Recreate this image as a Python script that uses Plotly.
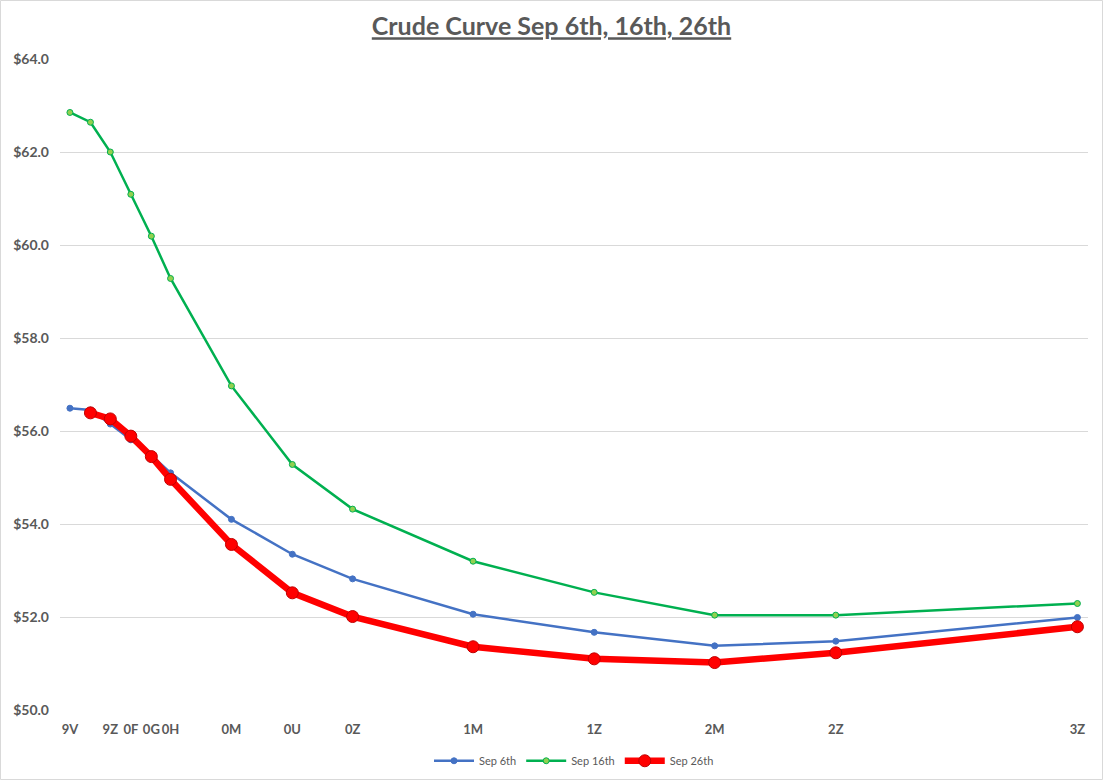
import plotly.graph_objects as go

# contract months (first of month) and their short codes
months = ["2019-10-01", "2019-11-01", "2019-12-01", "2020-01-01", "2020-02-01",
          "2020-03-01", "2020-06-01", "2020-09-01", "2020-12-01", "2021-06-01",
          "2021-12-01", "2022-06-01", "2022-12-01", "2023-12-01"]
tick_months = ["2019-10-01", "2019-12-01", "2020-01-01", "2020-02-01", "2020-03-01",
               "2020-06-01", "2020-09-01", "2020-12-01", "2021-06-01", "2021-12-01",
               "2022-06-01", "2022-12-01", "2023-12-01"]
tick_codes = ["9V", "9Z", "0F", "0G", "0H", "0M", "0U", "0Z", "1M", "1Z", "2M", "2Z", "3Z"]

sep_6 = [56.49, 56.45, 56.15, 55.81, 55.48, 55.10, 54.10, 53.35, 52.82, 52.06,
         51.67, 51.38, 51.48, 51.99]
sep_16 = [62.85, 62.64, 62.00, 61.09, 60.19, 59.28, 56.97, 55.28, 54.32, 53.20,
          52.53, 52.04, 52.04, 52.29]
# Sep 26th curve starts at the Nov contract
sep_26 = [None, 56.39, 56.26, 55.89, 55.45, 54.96, 53.56, 52.52, 52.01, 51.36,
          51.10, 51.02, 51.23, 51.79]

fig = go.Figure()

fig.add_trace(go.Scatter(
    x=months, y=sep_6, name="Sep 6th", mode="lines+markers",
    line=dict(color="#4472C4", width=2.5),
    marker=dict(size=6, color="#4472C4", line=dict(color="#4472C4", width=1))
))
fig.add_trace(go.Scatter(
    x=months, y=sep_16, name="Sep 16th", mode="lines+markers",
    line=dict(color="#00B050", width=2.5),
    marker=dict(size=6, color="#92D050", line=dict(color="#00B050", width=1))
))
fig.add_trace(go.Scatter(
    x=months, y=sep_26, name="Sep 26th", mode="lines+markers",
    line=dict(color="#FF0000", width=6.5),
    marker=dict(size=12, color="#FF0000", line=dict(color="#C00000", width=1))
))

# thin grey frame around the whole chart area
pw, ph = 1103 - 60 - 15, 780 - 59 - 70
fig.add_shape(type="rect", xref="paper", yref="paper",
              x0=-59.5 / pw, x1=1 + 14.5 / pw, y0=-69.5 / ph, y1=1 + 58.5 / ph,
              line=dict(color="#D9D9D9", width=1))

fig.update_layout(
    width=1103, height=780,
    margin=dict(l=60, r=15, t=59, b=70, autoexpand=False),
    paper_bgcolor="white", plot_bgcolor="white",
    font=dict(family="Lato, Open Sans, sans-serif", color="#595959"),
    title=dict(text="<b><u>Crude Curve Sep 6th, 16th, 26th</u></b>",
               x=0.5, xanchor="center", y=0.966, yanchor="middle",
               font=dict(size=25, color="#595959")),
    xaxis=dict(type="date", range=["2019-09-16", "2023-12-17"],
               tickvals=tick_months, ticktext=tick_codes, tickangle=0,
               showgrid=False, zeroline=False, showline=False,
               ticks="", ticklabelstandoff=10,
               tickfont=dict(size=13, color="#595959", family="Lato", weight="bold")),
    yaxis=dict(range=[50, 64], dtick=2, tickformat="$.1f",
               showgrid=True, gridcolor="#D9D9D9", gridwidth=1,
               zeroline=False, showline=False, ticks="", ticklabelstandoff=10,
               tickfont=dict(size=14, color="#595959", family="Lato", weight="bold")),
    legend=dict(orientation="h", x=0.5, xanchor="center", y=-0.078, yanchor="middle",
                font=dict(size=11, color="#595959"), itemwidth=40,
                bgcolor="rgba(0,0,0,0)"),
    showlegend=True,
)

# drop the default page margin so the fixed-size figure sits at the window corner
fig.write_html("out.html", config={"displayModeBar": False},
               post_script="document.body.style.margin='0';")
